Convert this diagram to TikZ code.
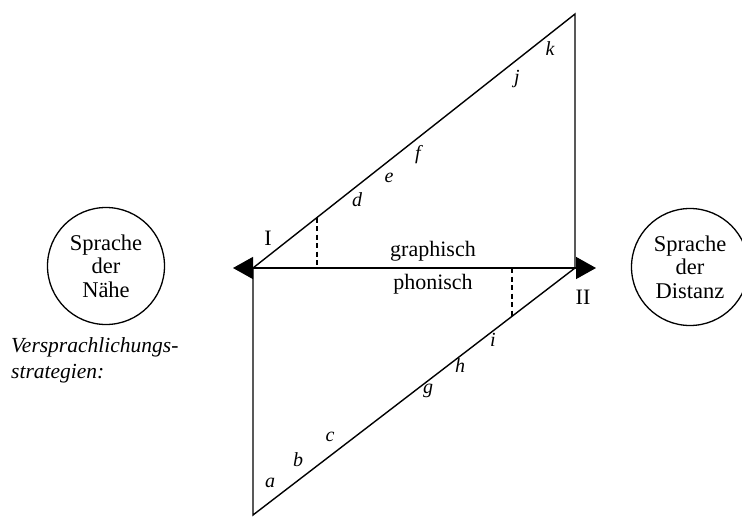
\documentclass[tikz,border=0pt]{standalone}
\usepackage{fontspec}
\setmainfont{Liberation Serif}
\usetikzlibrary{arrows.meta}
\begin{document}
\begin{tikzpicture}[x=1pt,y=-1pt,
  line/.style={line width=1.4pt},
  dashline/.style={line width=1.2pt, dash pattern=on 5pt off 3.5pt},
  bubble/.style={circle, draw, line width=1.3pt, minimum size=117pt, inner sep=0pt, align=center, font=\fontsize{22.5}{23.5}\selectfont},
  lbl/.style={font=\fontsize{22}{24}\selectfont, inner sep=0pt},
  let/.style={font=\fontsize{20}{22}\selectfont\itshape, inner sep=0pt}]
\useasboundingbox (0,0) rectangle (742,517);
% corner points
\coordinate (L) at (253,268);
\coordinate (R) at (575,268);
\coordinate (T) at (575,14);
\coordinate (B) at (253,515);
\coordinate (tipL) at (233,268);
\coordinate (tipR) at (596,268);
\coordinate (dA) at (317,217.5);
\coordinate (dA0) at (317,268);
\coordinate (dB) at (512,316);
\coordinate (dB0) at (512,268);
% lines
\draw[line, {Triangle[length=20pt,width=22pt]}-{Triangle[length=20pt,width=22pt]}] (tipL) -- (tipR);
\draw[line] (L) -- (T) -- (R);
\draw[line] (L) -- (B) -- (R);
\draw[dashline] (dA) -- (dA0);
\draw[dashline] (dB0) -- (dB);
% circles
\node[bubble] (near) at (106,266) {Sprache\\der\\Nähe};
\node[bubble] (far) at (690,267) {Sprache\\der\\Distanz};
% text
\node[lbl] (graph) at (433,251) {graphisch};
\node[lbl] (phon) at (433,284) {phonisch};
\node[lbl] (one) at (268,238) {I};
\node[lbl] (two) at (583,297) {II};
\node[font=\fontsize{21.5}{26}\selectfont\itshape, align=left, anchor=north west, inner sep=0pt] (strat) at (11,337) {Versprachlichungs-\\strategien:};
% letters
\node[let] (la) at (270,483) {a};
\node[let] (lb) at (298,460) {b};
\node[let] (lc) at (330,437) {c};
\node[let] (lg) at (428,391) {g};
\node[let] (lh) at (460,366) {h};
\node[let] (li) at (493,340) {i};
\node[let] (ld) at (357,200) {d};
\node[let] (le) at (389,178) {e};
\node[let] (lf) at (418,155) {f};
\node[let] (lj) at (517,79) {j};
\node[let] (lk) at (550,49) {k};
\end{tikzpicture}
\end{document}
